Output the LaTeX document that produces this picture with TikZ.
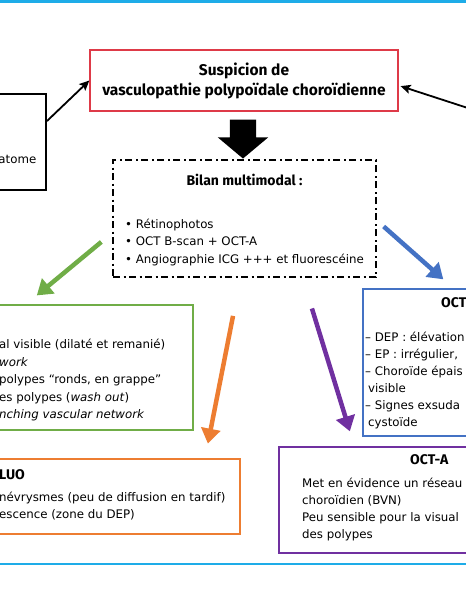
\documentclass[tikz,border=0pt]{standalone}
\usepackage{fontspec}
\setmainfont{DejaVu Sans}
\newfontfamily\headfont{Fira Sans}
\usetikzlibrary{arrows.meta,shapes.arrows}

\definecolor{vpcred}{RGB}{222,58,72}
\definecolor{icggreen}{RGB}{112,173,71}
\definecolor{fluoorange}{RGB}{237,125,49}
\definecolor{octblue}{RGB}{68,114,196}
\definecolor{octapurple}{RGB}{112,48,160}
\definecolor{rulecyan}{RGB}{30,172,232}

\begin{document}
\begin{tikzpicture}[x=1pt,y=-1pt,
    framebox/.style ={draw, line width=1.3pt, inner sep=0pt},
    bodytext/.style ={font=\fontsize{11.8}{17}\selectfont, inner sep=0pt, anchor=base west},
    headtext/.style ={font=\headfont\fontsize{14}{17}\selectfont\bfseries, inner sep=0pt},
    fatarrow/.style ={line width=4.5pt, -{Triangle[length=15pt,width=19pt]}},
    thinarrow/.style ={line width=1.8pt, -{Stealth[length=10pt,width=9pt,inset=2pt]}}]
   \useasboundingbox (0,0) rectangle (466,600);
   \clip (0,0) rectangle (466,600);
   \draw[rulecyan, line width=2.5pt] (0,1.5) -- (466,1.5);
   \draw[rulecyan, line width=2.5pt] (0,564) -- (466,564);

   \node[framebox, draw=vpcred, minimum width=308pt, minimum height=61pt, align=center,
     font=\headfont\fontsize{15.5}{20}\selectfont\bfseries] (suspicion) at (244,80.5)
     {Suspicion de\\vasculopathie polypoïdale choroïdienne};
   \node[framebox, line width=2pt, minimum width=116pt, minimum height=96pt] (hema) at (-12,142) {};
   \node[bodytext, anchor=base east] (hematxt) at (36.5,163) {atome};
   \coordinate (rhsbox) at (520,125);

   \node[single arrow, fill=black, rotate=-90, minimum height=39pt, inner xsep=0pt, inner ysep=13pt,
     single arrow head extend=12pt, single arrow tip angle=100] (downarrow) at (243,133.5) {};

   \node[framebox, line width=1.8pt, dash pattern=on 7pt off 3.5pt on 2pt off 3.5pt,
     minimum width=263pt, minimum height=117pt] (bilan) at (244.5,218.5) {};
   \node[headtext, anchor=base] (bilantitle) at (244.5,185) {Bilan multimodal :};
   \foreach \entry [count=\i] in {Rétinophotos, OCT B-scan + OCT-A, Angiographie ICG +++ et fluorescéine}
     \node[bodytext] (bilan-\i) at (125,210.3+17.7*\i) {• \entry};

   \node[framebox, draw=icggreen, minimum width=273pt, minimum height=125pt] (icg) at (56.5,367.5) {};
   \foreach \entry [count=\i] in {al visible (dilaté et remanié), {\itshape work},
       {polypes “ronds, en grappe”}, es polypes (\textit{wash out}), {\itshape nching vascular network}}
     \node[bodytext] (icg-\i) at (-1,331+17.5*\i) {\entry};

   \node[framebox, draw=fluoorange, minimum width=320pt, minimum height=75pt] (fluo) at (80,496.5) {};
   \node[headtext, anchor=base west] (fluotitle) at (-1,479) {LUO};
   \node[bodytext] (fluo-1) at (-1,501.5) {névrysmes (peu de diffusion en tardif)};
   \node[bodytext] (fluo-2) at (-1,518.5) {escence (zone du DEP)};

   \node[framebox, draw=octblue, minimum width=197pt, minimum height=147pt] (oct) at (461.5,362.5) {};
   \node[headtext, anchor=base west] (octtitle) at (441,307) {OCT};
   \foreach \entry [count=\i] in {– DEP : élévation, {– EP : irrégulier,}, – Choroïde épais,
       \hspace{3pt}visible, – Signes exsuda, \hspace{3pt}cystoïde}
     \node[bodytext] (oct-\i) at (365,323.9+17.1*\i) {\entry};

   \node[framebox, draw=octapurple, minimum width=281pt, minimum height=106pt] (octa) at (419.5,500) {};
   \node[headtext, anchor=base west] (octatitle) at (410,464) {OCT-A};
   \foreach \entry [count=\i] in {Met en évidence un réseau, choroïdien (BVN), Peu sensible pour la visual, des polypes}
     \node[bodytext] (octa-\i) at (302,470.5+17*\i) {\entry};

   \draw[thinarrow] ([yshift=21pt]hema.east) -- (suspicion.west);
   \draw[thinarrow, shorten >=2pt] (rhsbox) -- ([yshift=-5pt]suspicion.east);
   \draw[fatarrow, icggreen, shorten <=14pt, shorten >=14pt] ([yshift=-14.5pt]bilan.west) -- ([xshift=-30.5pt]icg.north);
   \draw[fatarrow, fluoorange, shorten <=38.7pt, shorten >=15pt] ([xshift=-4pt]bilan.south) -- ([xshift=125pt]fluo.north);
   \draw[fatarrow, octblue, shorten <=9pt, shorten >=13.6pt] ([yshift=-2pt]bilan.east) -- ([xshift=-8pt]oct.north);
   \draw[fatarrow, octapurple, shorten <=32pt, shorten >=15.7pt] ([xshift=58pt]bilan.south) -- ([xshift=-65pt]octa.north);
\end{tikzpicture}
\end{document}
